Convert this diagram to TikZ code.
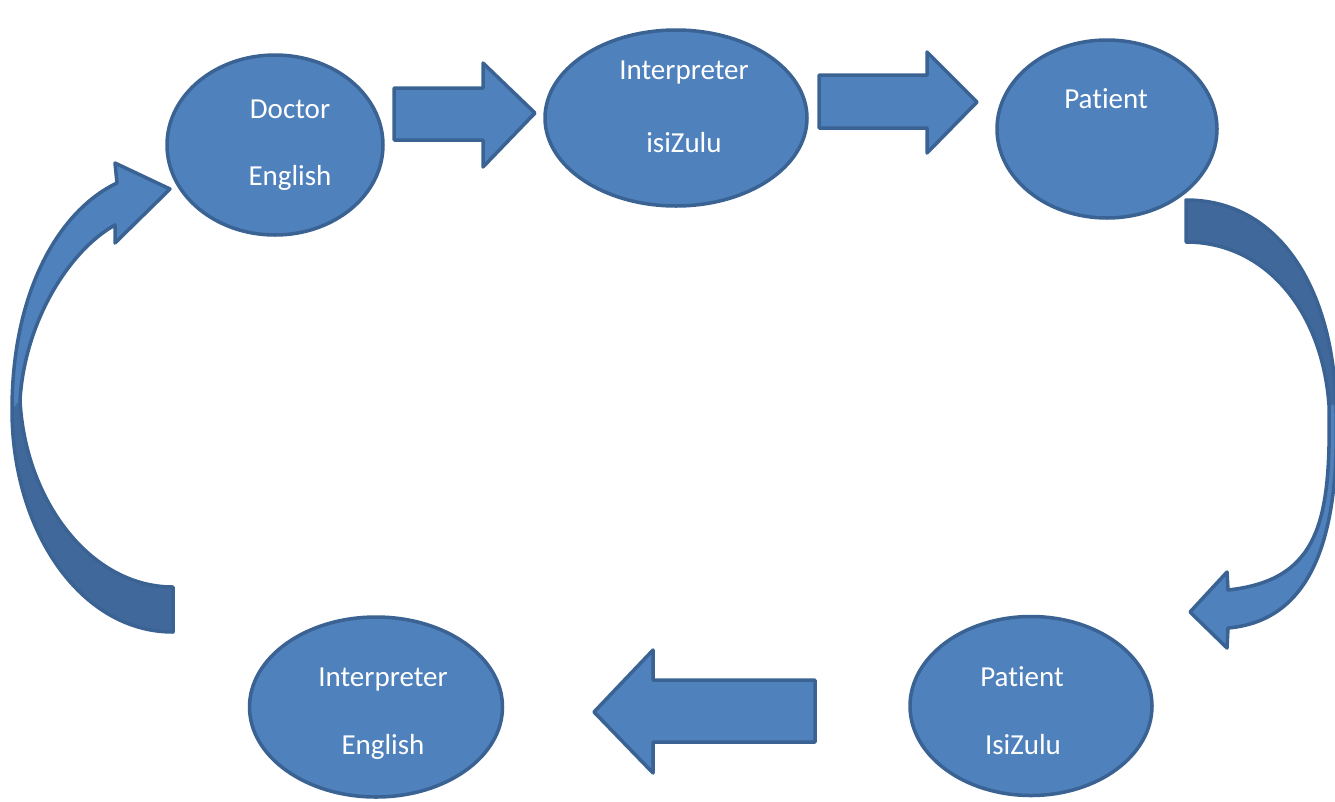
\documentclass[tikz,border=0pt]{standalone}
\usepackage{fontspec}
\setmainfont{Carlito}[Ligatures={NoCommon}]
\usetikzlibrary{shapes.geometric}
\definecolor{fillblue}{HTML}{4F81BD}
\definecolor{edgeblue}{HTML}{3A6293}
\definecolor{darkblue}{HTML}{41689B}
\tikzset{
  bubble/.style={ellipse, draw=edgeblue, fill=fillblue, line width=3.5pt, inner sep=0pt},
  lbl/.style={text=white, anchor=base, inner sep=0pt, font=\fontsize{29}{35}\selectfont},
  blockarrow/.style={draw=edgeblue, fill=fillblue, line width=3.5pt, line join=round},
  darkpart/.style={fill=darkblue}
}
\begin{document}
\begin{tikzpicture}[x=1pt,y=-1pt]
\useasboundingbox (0,0) rectangle (1335,801);
% ellipses
\node[bubble, minimum width=216pt, minimum height=180pt] (doc) at (275,145) {};
\node[bubble, minimum width=262pt, minimum height=176pt] (intz) at (676,118) {};
\node[bubble, minimum width=220pt, minimum height=178pt] (pat) at (1107,129) {};
\node[bubble, minimum width=242pt, minimum height=179pt] (patz) at (1031,706) {};
\node[bubble, minimum width=253pt, minimum height=180pt] (inte) at (376,707) {};
% labels
\node[lbl] (t1) at (290,118) {Doctor};
\node[lbl] (t2) at (290,185) {English};
\node[lbl] (t3) at (684,79) {Interpreter};
\node[lbl] (t4) at (684,152) {isiZulu};
\node[lbl] (t5) at (1106,108) {Patient};
\node[lbl] (t6) at (1022,686) {Patient};
\node[lbl] (t7) at (1023,754) {IsiZulu};
\node[lbl] (t8) at (383,686) {Interpreter};
\node[lbl] (t9) at (383,754) {English};
% straight block arrows
\draw[blockarrow] (394,88) -- (483,88) -- (483,63) -- (535,113) -- (483,167) -- (483,140) -- (394,140) -- cycle;
\draw[blockarrow] (819,75) -- (927,75) -- (927,52) -- (977,102) -- (927,153) -- (927,128) -- (819,128) -- cycle;
\draw[blockarrow] (815,680) -- (653,680) -- (653,650) -- (594,712) -- (653,773) -- (653,742) -- (815,742) -- cycle;
% left curved arrow
\fill[fillblue] (173,632) .. controls (80,632) and (12,530) .. (12,410)
  .. controls (12,290) and (60,210) .. (117,183) -- (115,163) -- (170,189) -- (115,243) -- (115,225)
  .. controls (70,250) and (25,320) .. (20,400)
  .. controls (25,500) and (90,587) .. (173,587) -- cycle;
\fill[darkpart] (173,632) .. controls (80,632) and (12,530) .. (12,410) -- (20,400)
  .. controls (25,500) and (90,587) .. (173,587) -- cycle;
\draw[edgeblue, line width=3.5pt, line join=round] (173,632) .. controls (80,632) and (12,530) .. (12,410)
  .. controls (12,290) and (60,210) .. (117,183) -- (115,163) -- (170,189) -- (115,243) -- (115,225)
  .. controls (70,250) and (25,320) .. (20,400)
  .. controls (25,500) and (90,587) .. (173,587) -- cycle;
% right curved arrow
\fill[fillblue] (1186,200) .. controls (1280,200) and (1333,290) .. (1336,405)
  .. controls (1340,520) and (1320,620) .. (1228,628) -- (1227,648) -- (1190,612) -- (1227,572) -- (1228,590)
  .. controls (1320,580) and (1331,520) .. (1329,405)
  .. controls (1322,310) and (1265,242) .. (1186,242) -- cycle;
\fill[darkpart] (1186,200) .. controls (1280,200) and (1333,290) .. (1336,405) -- (1329,405)
  .. controls (1322,310) and (1265,242) .. (1186,242) -- cycle;
\draw[edgeblue, line width=3.5pt, line join=round] (1186,200) .. controls (1280,200) and (1333,290) .. (1336,405)
  .. controls (1340,520) and (1320,620) .. (1228,628) -- (1227,648) -- (1190,612) -- (1227,572) -- (1228,590)
  .. controls (1320,580) and (1331,520) .. (1329,405)
  .. controls (1322,310) and (1265,242) .. (1186,242) -- cycle;
\end{tikzpicture}
\end{document}
